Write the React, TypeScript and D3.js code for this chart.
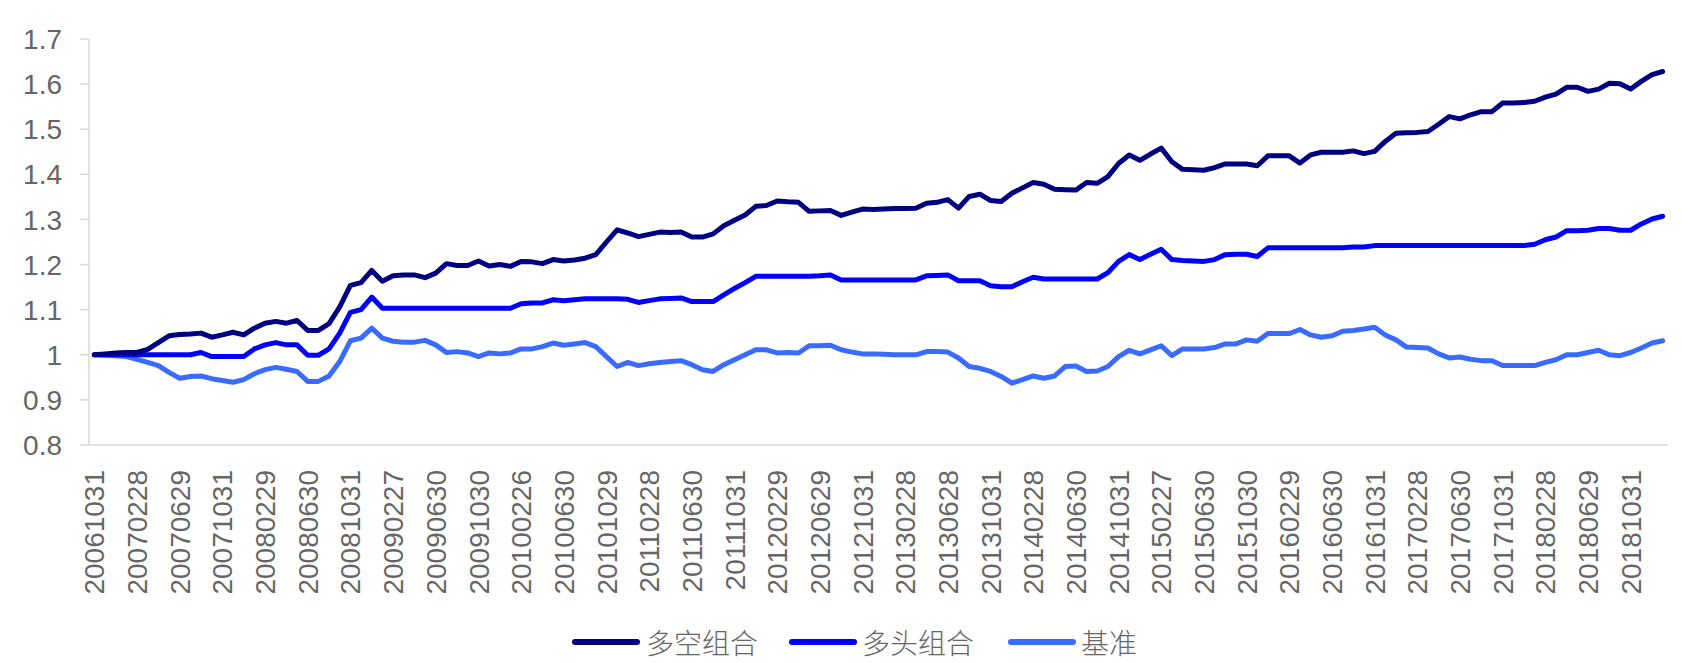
import React from "react";
import * as d3 from "d3";

const dates: string[] = [
  "20061031","20061130","20061229",
  "20070131","20070228","20070330","20070430","20070531","20070629","20070731","20070831","20070928","20071031","20071130","20071228",
  "20080131","20080229","20080331","20080430","20080530","20080630","20080731","20080829","20080926","20081031","20081128","20081231",
  "20090123","20090227","20090331","20090430","20090527","20090630","20090731","20090831","20090930","20091030","20091130","20091231",
  "20100129","20100226","20100331","20100430","20100531","20100630","20100730","20100831","20100930","20101029","20101130","20101231",
  "20110131","20110228","20110331","20110429","20110531","20110630","20110729","20110831","20110930","20111031","20111130","20111230",
  "20120131","20120229","20120330","20120427","20120531","20120629","20120731","20120831","20120928","20121031","20121130","20121231",
  "20130131","20130228","20130329","20130426","20130531","20130628","20130731","20130830","20130930","20131031","20131129","20131231",
  "20140130","20140228","20140331","20140430","20140530","20140630","20140731","20140829","20140930","20141031","20141128","20141231",
  "20150130","20150227","20150331","20150430","20150529","20150630","20150731","20150831","20150930","20151030","20151130","20151231",
  "20160129","20160229","20160331","20160429","20160531","20160630","20160729","20160831","20160930","20161031","20161130","20161230",
  "20170126","20170228","20170331","20170428","20170531","20170630","20170731","20170831","20170929","20171031","20171130","20171229",
  "20180131","20180228","20180330","20180427","20180531","20180629","20180731","20180831","20180928","20181031","20181130","20181228",
  "20190131",
];

const longShort: number[] = [
  1.000,1.002,1.004,1.005,1.005,1.012,1.027,1.042,1.045,1.046,
  1.048,1.039,1.044,1.050,1.044,1.059,1.070,1.074,1.070,1.076,
  1.054,1.054,1.069,1.106,1.154,1.160,1.187,1.163,1.175,1.177,
  1.177,1.171,1.181,1.202,1.198,1.198,1.208,1.197,1.200,1.196,
  1.207,1.206,1.202,1.211,1.208,1.210,1.214,1.222,1.250,1.277,
  1.270,1.262,1.267,1.272,1.271,1.272,1.261,1.261,1.268,1.286,
  1.298,1.310,1.329,1.331,1.341,1.339,1.338,1.318,1.319,1.320,
  1.309,1.316,1.323,1.322,1.323,1.324,1.324,1.325,1.336,1.338,
  1.344,1.325,1.351,1.356,1.342,1.340,1.358,1.370,1.382,1.378,
  1.367,1.366,1.365,1.382,1.380,1.395,1.424,1.443,1.431,1.445,
  1.458,1.428,1.411,1.410,1.409,1.415,1.423,1.423,1.423,1.419,
  1.441,1.441,1.441,1.425,1.443,1.449,1.449,1.449,1.452,1.446,
  1.451,1.473,1.491,1.492,1.493,1.495,1.511,1.528,1.523,1.532,
  1.539,1.539,1.558,1.558,1.559,1.562,1.571,1.578,1.593,1.593,
  1.584,1.589,1.602,1.601,1.589,1.606,1.621,1.628,
];

const longOnly: number[] = [
  1.000,1.000,1.000,1.000,1.000,1.000,1.000,1.000,1.000,1.000,
  1.005,0.996,0.996,0.996,0.996,1.013,1.022,1.027,1.022,1.022,
  0.999,0.999,1.013,1.048,1.094,1.100,1.128,1.103,1.103,1.103,
  1.103,1.103,1.103,1.103,1.103,1.103,1.103,1.103,1.103,1.103,
  1.113,1.115,1.115,1.122,1.120,1.122,1.124,1.124,1.124,1.124,
  1.123,1.116,1.120,1.124,1.125,1.126,1.118,1.118,1.118,1.133,
  1.147,1.160,1.174,1.174,1.174,1.174,1.174,1.174,1.175,1.177,
  1.166,1.166,1.166,1.166,1.166,1.166,1.166,1.166,1.175,1.176,
  1.177,1.164,1.164,1.164,1.153,1.151,1.151,1.162,1.172,1.168,
  1.168,1.168,1.168,1.168,1.168,1.182,1.207,1.222,1.211,1.223,
  1.234,1.211,1.209,1.208,1.207,1.211,1.222,1.223,1.223,1.218,
  1.237,1.237,1.237,1.237,1.237,1.237,1.237,1.237,1.239,1.239,
  1.242,1.242,1.242,1.242,1.242,1.242,1.242,1.242,1.242,1.242,
  1.242,1.242,1.242,1.242,1.242,1.245,1.255,1.261,1.275,1.275,
  1.276,1.280,1.280,1.276,1.276,1.290,1.301,1.307,
];

const benchmark: number[] = [
  1.000,0.999,0.998,0.996,0.990,0.983,0.976,0.961,0.948,0.952,
  0.953,0.947,0.943,0.939,0.945,0.958,0.967,0.972,0.968,0.963,
  0.941,0.941,0.953,0.985,1.031,1.037,1.059,1.037,1.030,1.028,
  1.028,1.032,1.022,1.005,1.007,1.004,0.996,1.004,1.002,1.004,
  1.013,1.013,1.018,1.026,1.021,1.024,1.027,1.018,0.996,0.974,
  0.983,0.976,0.980,0.983,0.985,0.987,0.978,0.967,0.963,0.978,
  0.989,1.000,1.011,1.011,1.004,1.005,1.004,1.020,1.020,1.021,
  1.011,1.006,1.002,1.002,1.001,1.000,1.000,1.000,1.007,1.007,
  1.006,0.993,0.974,0.970,0.963,0.952,0.937,0.945,0.953,0.948,
  0.953,0.974,0.975,0.963,0.964,0.974,0.996,1.010,1.002,1.011,
  1.020,0.998,1.013,1.013,1.013,1.016,1.024,1.024,1.033,1.030,
  1.047,1.047,1.047,1.056,1.044,1.039,1.042,1.052,1.054,1.057,
  1.061,1.044,1.033,1.017,1.016,1.015,1.002,0.993,0.995,0.990,
  0.987,0.987,0.976,0.976,0.976,0.976,0.983,0.989,1.000,1.000,
  1.005,1.010,1.000,0.998,1.005,1.015,1.026,1.031,
];

const yTicks: number[] = [0.8, 0.9, 1, 1.1, 1.2, 1.3, 1.4, 1.5, 1.6, 1.7];
const seriesNames: string[] = ["多空组合", "多头组合", "基准"];
const seriesColors: string[] = ["#000080", "#0000FF", "#3A6BFF"];
const seriesValues: number[][] = [longShort, longOnly, benchmark];
const labelEvery = 4;

const W = 1683;
const H = 663;
const plotLeft = 89;
const plotRight = 1668;
const plotTop = 39;
const plotBottom = 445;
const axisColor = "#D9D9D9";
const textColor = "#666666";

export default function App() {
  const x = d3.scalePoint<string>().domain(dates).range([plotLeft, plotRight]).padding(0.5);
  const y = d3.scaleLinear().domain([0.8, 1.7]).range([plotBottom, plotTop]);
  const line = d3
    .line<number>()
    .x((_, i) => x(dates[i]) as number)
    .y((d) => y(d));

  const legendItems = [
    { lineX: 575, textX: 646 },
    { lineX: 792, textX: 862 },
    { lineX: 1011, textX: 1081 },
  ];

  return (
    <svg
      width={W}
      height={H}
      style={{ position: "absolute", left: 0, top: 0, background: "#fff" }}
      fontFamily="'Liberation Sans', Arial, sans-serif"
    >
      <line x1={plotLeft} x2={plotLeft} y1={y(1.7)} y2={plotBottom} stroke={axisColor} strokeWidth={1.5} />
      <line x1={plotLeft} x2={plotRight} y1={plotBottom} y2={plotBottom} stroke={axisColor} strokeWidth={1.5} />
      {yTicks.map((t) => (
        <g key={t}>
          <line x1={plotLeft - 9} x2={plotLeft} y1={y(t)} y2={y(t)} stroke={axisColor} strokeWidth={1.5} />
          <text x={62} y={y(t)} dy="0.36em" textAnchor="end" fontSize={28} fill={textColor}>
            {String(t)}
          </text>
        </g>
      ))}
      {dates.map((d, i) =>
        i % labelEvery === 0 ? (
          <text
            key={d}
            transform={`translate(${x(d)},470) rotate(-90)`}
            dy="0.36em"
            textAnchor="end"
            fontSize={28}
            fill={textColor}
          >
            {d}
          </text>
        ) : null
      )}
      {seriesValues
        .map((vals, k) => (
          <path
            key={seriesNames[k]}
            d={line(vals) || ""}
            fill="none"
            stroke={seriesColors[k]}
            strokeWidth={5}
            strokeLinejoin="round"
            strokeLinecap="round"
          />
        ))
        .reverse()}
      {legendItems.map((it, k) => (
        <g key={seriesNames[k]}>
          <line
            x1={it.lineX}
            x2={it.lineX + 62}
            y1={642}
            y2={642}
            stroke={seriesColors[k]}
            strokeWidth={6}
            strokeLinecap="round"
          />
          <text
            x={it.textX}
            y={642}
            dominantBaseline="central"
            fontSize={28}
            fontWeight={300}
            fill={textColor}
            fontFamily="'Noto Sans CJK SC', sans-serif"
          >
            {seriesNames[k]}
          </text>
        </g>
      ))}
    </svg>
  );
}
